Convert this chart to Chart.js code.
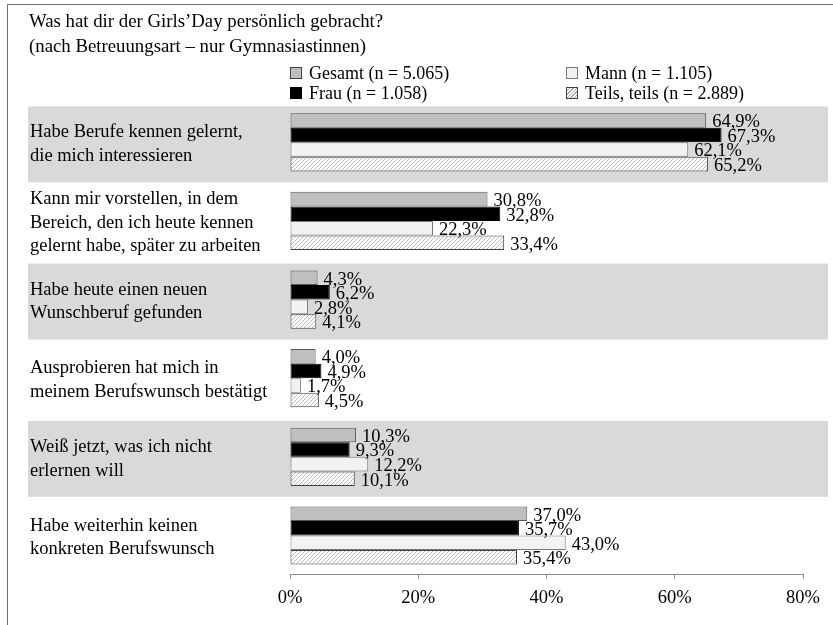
<!DOCTYPE html>
<html lang="de">
<head>
<meta charset="utf-8">
<script src="https://cdn.jsdelivr.net/npm/chart.js@4"></script>
<style>
  html, body { margin: 0; padding: 0; background: #fff; }
  body { width: 833px; height: 625px; position: relative; overflow: hidden;
         font-family: "Liberation Serif", "Times New Roman", serif; color: #000; }
  #frame { position: absolute; left: 7px; top: 4px; right: -2px; bottom: -2px;
           border-left: 1px solid #6e6e6e; border-top: 1px solid #6e6e6e; }
  #chart { position: absolute; left: 0; top: 0; }
  #title { position: absolute; left: 29px; top: 8px; font-size: 18.8px; line-height: 25px; }
  .leg { position: absolute; font-size: 18px; line-height: 20px; white-space: nowrap; }
  .leg i { display: inline-block; width: 10px; height: 10px; margin-right: 7px;
           vertical-align: 0px; border: 1px solid #404040; }
</style>
</head>
<body>
<canvas id="chart" width="833" height="625"></canvas>
<div id="frame"></div>
<div id="title">Was hat dir der Girls’Day persönlich gebracht?<br>(nach Betreuungsart – nur Gymnasiastinnen)</div>
<div id="legend"></div>
<script>
// カテゴリ（複数行ラベル）
const categories = [
  ['Habe Berufe kennen gelernt,', 'die mich interessieren'],
  ['Kann mir vorstellen, in dem', 'Bereich, den ich heute kennen', 'gelernt habe, später zu arbeiten'],
  ['Habe heute einen neuen', 'Wunschberuf gefunden'],
  ['Ausprobieren hat mich in', 'meinem Berufswunsch bestätigt'],
  ['Weiß jetzt, was ich nicht', 'erlernen will'],
  ['Habe weiterhin keinen', 'konkreten Berufswunsch'],
];

const seriesNames = ['Gesamt (n = 5.065)', 'Frau (n = 1.058)', 'Mann (n = 1.105)', 'Teils, teils (n = 2.889)'];

const gesamt = [64.9, 30.8, 4.3, 4.0, 10.3, 37.0];
const frau   = [67.3, 32.8, 6.2, 4.9, 9.3, 35.7];
const mann   = [62.1, 22.3, 2.8, 1.7, 12.2, 43.0];
const teils  = [65.2, 33.4, 4.1, 4.5, 10.1, 35.4];

const xTicks = [0, 20, 40, 60, 80];

const FONT = '"Liberation Serif", "Times New Roman", serif';

// 斜線パターン
function makeHatch() {
  const c = document.createElement('canvas');
  c.width = 4; c.height = 4;
  const g = c.getContext('2d');
  g.fillStyle = '#ffffff';
  g.fillRect(0, 0, 4, 4);
  g.strokeStyle = '#bdbdbd';
  g.lineWidth = 1;
  g.beginPath();
  g.moveTo(0, 4); g.lineTo(4, 0);
  g.moveTo(-1, 1); g.lineTo(1, -1);
  g.moveTo(3, 5); g.lineTo(5, 3);
  g.stroke();
  return g.createPattern(c, 'repeat');
}

// 凡例（2列、縦方向の並び）
const legendItems = [
  { name: seriesNames[0], x: 290, y: 63, css: 'background:#bfbfbf;' },
  { name: seriesNames[1], x: 290, y: 83, css: 'background:#000;border-color:#000;' },
  { name: seriesNames[2], x: 566, y: 63, css: 'background:#f2f2f2;border-color:#777;' },
  { name: seriesNames[3], x: 566, y: 83, css: 'background:repeating-linear-gradient(135deg,#fff 0 1.5px,#aaa 1.5px 2.5px);' },
];
const legendEl = document.getElementById('legend');
legendItems.forEach(it => {
  const d = document.createElement('div');
  d.className = 'leg';
  d.style.left = it.x + 'px';
  d.style.top = it.y + 'px';
  d.innerHTML = `<i style="${it.css}"></i>${it.name}`;
  legendEl.appendChild(d);
});

// 背景の灰色帯
const bandPlugin = {
  id: 'bands',
  beforeDraw(chart) {
    const ctx = chart.ctx;
    const y = chart.scales.y;
    ctx.save();
    ctx.fillStyle = '#d9d9d9';
    for (let i = 0; i < categories.length; i += 2) {
      const cy = y.getPixelForValue(i);
      ctx.fillRect(28, cy - 36, 800, 76);
    }
    ctx.restore();
  },
};

// 値ラベル
const valuePlugin = {
  id: 'values',
  afterDatasetsDraw(chart) {
    const ctx = chart.ctx;
    ctx.save();
    ctx.font = '18.5px ' + FONT;
    ctx.fillStyle = '#000';
    ctx.textAlign = 'left';
    ctx.textBaseline = 'middle';
    chart.data.datasets.forEach((ds, di) => {
      chart.getDatasetMeta(di).data.forEach((bar, i) => {
        const txt = ds.data[i].toFixed(1).replace('.', ',') + '%';
        ctx.fillText(txt, bar.x + 6, bar.y + 2);
      });
    });
    ctx.restore();
  },
};

Chart.defaults.font.family = FONT;
Chart.defaults.font.size = 18;
Chart.defaults.color = '#000';

const hatch = makeHatch();

new Chart(document.getElementById('chart'), {
  type: 'bar',
  data: {
    labels: categories,
    datasets: [
      { label: seriesNames[0], data: gesamt, backgroundColor: '#bfbfbf', borderColor: '#555555' },
      { label: seriesNames[1], data: frau, backgroundColor: '#000000', borderColor: '#000000' },
      { label: seriesNames[2], data: mann, backgroundColor: '#f2f2f2', borderColor: '#777777' },
      { label: seriesNames[3], data: teils, backgroundColor: hatch, borderColor: '#404040' },
    ],
  },
  options: {
    indexAxis: 'y',
    responsive: false,
    animation: false,
    layout: { padding: { left: 30, right: 30, top: 103, bottom: 8 } },
    datasets: {
      bar: { barPercentage: 1, categoryPercentage: 0.74, borderWidth: 1, borderSkipped: false },
    },
    plugins: {
      legend: { display: false },
      tooltip: { enabled: false },
    },
    scales: {
      y: {
        grid: { display: false },
        border: { display: false },
        ticks: { crossAlign: 'far', font: { size: 18.5, lineHeight: 1.28 }, padding: 0, labelOffset: 2 },
        afterFit(scale) { scale.width = 260; },
      },
      x: {
        min: 0,
        max: 80,
        afterBuildTicks(scale) { scale.ticks = xTicks.map(v => ({ value: v })); },
        grid: { drawOnChartArea: false, drawTicks: true, tickLength: 4, color: '#8c8c8c' },
        border: { display: true, color: '#8c8c8c' },
        ticks: { callback: v => v + '%', padding: 8, maxRotation: 0, font: { size: 18.5 } },
      },
    },
  },
  plugins: [bandPlugin, valuePlugin],
});
</script>
</body>
</html>
